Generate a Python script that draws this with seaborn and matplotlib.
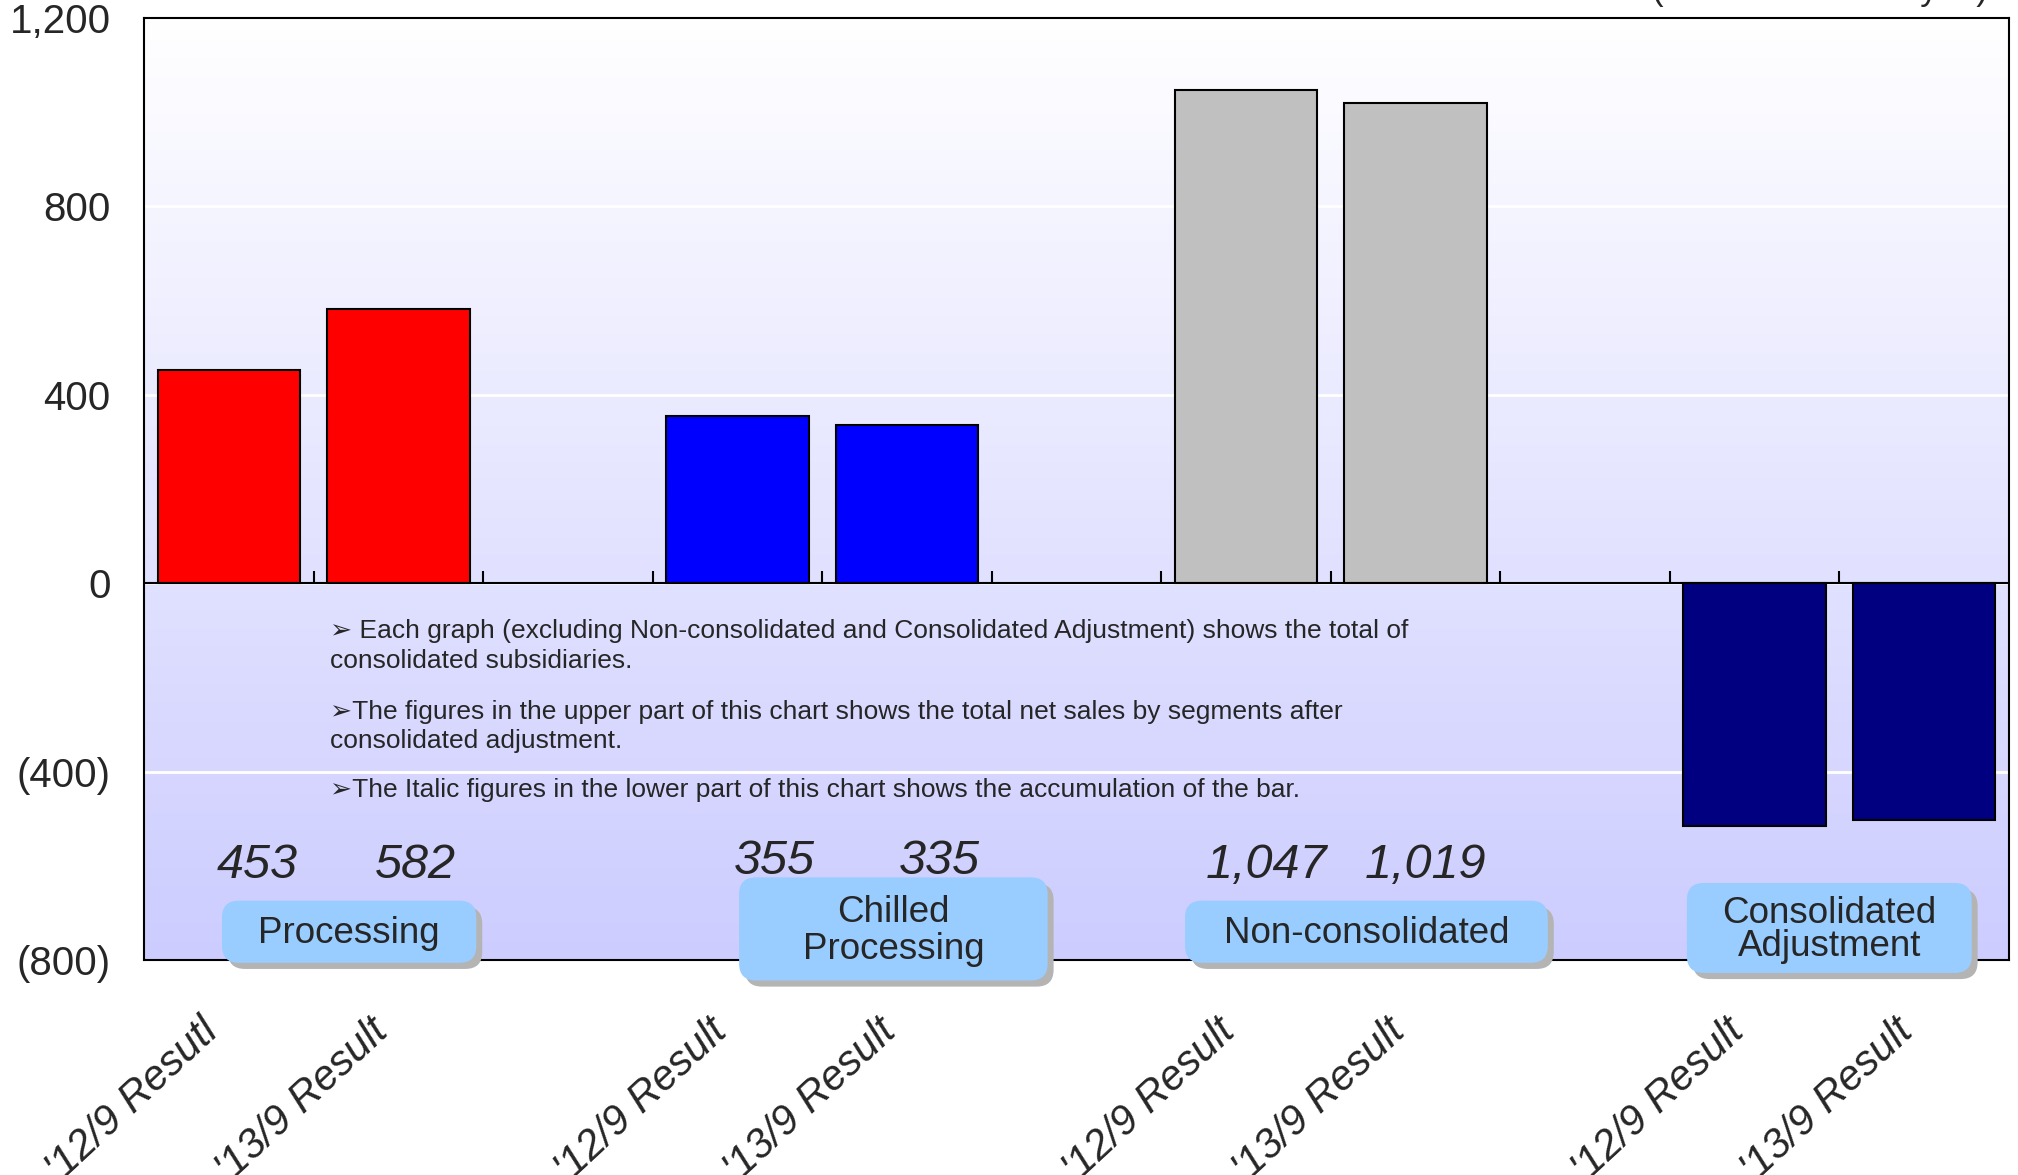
import numpy as np
import pandas as pd
import matplotlib
matplotlib.use("Agg")
import matplotlib.pyplot as plt
import matplotlib.transforms as mtransforms
import seaborn as sns
from matplotlib.patches import FancyBboxPatch

# values (100 million yen)
segments = ["Processing", "Chilled\nProcessing", "Non-consolidated", "Consolidated\nAdjustment"]
sales_12 = [453, 355, 1047, -516]
sales_13 = [582, 335, 1019, -502]
segment_colors = ["#ff0000", "#0000ff", "#c0c0c0", "#000080"]
tick_labels = ["'12/9 Resutl", "'13/9 Result",
               "'12/9 Result", "'13/9 Result",
               "'12/9 Result", "'13/9 Result",
               "'12/9 Result", "'13/9 Result"]
accum_labels = ["453", "582", "355", "335", "1,047", "1,019"]
y_ticks = [-800, -400, 0, 400, 800, 1200]
y_tick_labels = ["(800)", "(400)", "0", "400", "800", "1,200"]
notes = [
    "\u27a2 Each graph (excluding Non-consolidated and Consolidated Adjustment) shows the total of\nconsolidated subsidiaries.",
    "\u27a2The figures in the upper part of this chart shows the total net sales by segments after\nconsolidated adjustment.",
    "\u27a2The Italic figures in the lower part of this chart shows the accumulation of the bar.",
]
unit_label = "(Unit: 100 million yen)"

# every segment takes two bar slots plus one empty slot between groups
n_slots = 3 * len(segments) - 1
rows = []
for i, seg in enumerate(segments):
    rows.append({"slot": f"s{3 * i}", "value": sales_12[i], "segment": seg})
    rows.append({"slot": f"s{3 * i + 1}", "value": sales_13[i], "segment": seg})
df = pd.DataFrame(rows)
order = [f"s{k}" for k in range(n_slots)]
bar_pos = [order.index(s) for s in df["slot"]]

sns.set_style("white")
plt.rcParams["font.family"] = ["Liberation Sans", "DejaVu Sans"]

fig = plt.figure(figsize=(20.18, 11.75), dpi=100)
ax = fig.add_axes([144 / 2018, 1 - 960 / 1175, 1865 / 2018, 942 / 1175])

# gradient background, white at the top to lavender at the bottom
grad = np.linspace(0, 1, 256)[:, None]
top = np.array([1.0, 1.0, 1.0])
bottom = np.array([0.80, 0.80, 1.0])
img = top[None, None, :] * (1 - grad[..., None]) + bottom[None, None, :] * grad[..., None]
ax.imshow(img, extent=[0, 1, 0, 1], transform=ax.transAxes, aspect="auto", zorder=0)

for yv in y_ticks[1:-1]:
    ax.axhline(yv, color="white", lw=2, zorder=1)

sns.barplot(data=df, x="slot", y="value", hue="segment", order=order,
            hue_order=segments, palette=segment_colors, width=0.84,
            saturation=1, dodge=False, legend=False, edgecolor="black",
            linewidth=1.5, errorbar=None, ax=ax, zorder=3)

ax.set_xlim(-0.5, n_slots - 0.5)
ax.set_ylim(y_ticks[0], y_ticks[-1])
ax.axhline(0, color="black", lw=1.5, zorder=4)
ax.vlines(np.arange(0.5, n_slots - 0.5, 1), 0, 25, color="black", lw=1.5, zorder=2)

ax.set_yticks(y_ticks, y_tick_labels)
ax.tick_params(axis="y", direction="in", length=10, width=1.5, labelsize=29, pad=24)
ax.set_xticks(bar_pos, tick_labels)
ax.tick_params(axis="x", length=0, labelsize=30, pad=37)
shift = mtransforms.ScaledTranslation(-30 / 100, 0, fig.dpi_scale_trans)
for lab in ax.get_xticklabels():
    lab.set_rotation(43)
    lab.set_ha("right")
    lab.set_rotation_mode("anchor")
    lab.set_fontstyle("italic")
    lab.set_transform(lab.get_transform() + shift)
ax.set_xlabel("")
ax.set_ylabel("")
for sp in ax.spines.values():
    sp.set_visible(True)
    sp.set_color("black")
    sp.set_linewidth(1.5)
    sp.set_zorder(5)

# accumulation figures in italics
num_dx = [0.17, 0.10, 0.22, 0.19, 0.12, 0.06]
num_y = [-600, -600, -590, -590, -600, -600]
for k, txt in enumerate(accum_labels):
    ax.text(bar_pos[k] + num_dx[k], num_y[k], txt, fontsize=35, fontstyle="italic",
            ha="center", va="center", zorder=6)

# notes
ax.text(0.6, -133, notes[0], fontsize=19, va="center", ha="left", linespacing=1.3, zorder=6)
ax.text(0.6, -304, notes[1], fontsize=19, va="center", ha="left", linespacing=1.3, zorder=6)
ax.text(0.6, -440, notes[2], fontsize=19, va="center", ha="left", zorder=6)

# segment name boxes (centre x, centre y, width in slots, height in units, line spacing)
box_geom = [(0.71, -740, 1.50, 132, 1.0), (3.92, -734, 1.82, 219, 1.08),
            (6.71, -740, 2.14, 132, 1.0), (9.44, -732, 1.68, 191, 0.9)]
aspect = (2000 / 942) / (n_slots / 1865)
for seg, (cx, cy, w, h, ls) in zip(segments, box_geom):
    for dx, dy, fc, z in [(0.035, -13, "#b4b4b4", 6), (0, 0, "#99ccff", 7)]:
        p = FancyBboxPatch((cx - w / 2 + dx, cy - h / 2 + dy), w, h,
                           boxstyle="round,pad=0,rounding_size=0.1",
                           mutation_aspect=aspect, fc=fc, ec="none",
                           clip_on=False, zorder=z)
        ax.add_patch(p)
    ax.text(cx, cy - 4, seg, fontsize=26.5, ha="center", va="center",
            linespacing=ls, zorder=8)

fig.text(1988 / 2018, 1.0, unit_label, fontsize=25, ha="right", va="baseline")

fig.savefig("out.png", dpi=100)
